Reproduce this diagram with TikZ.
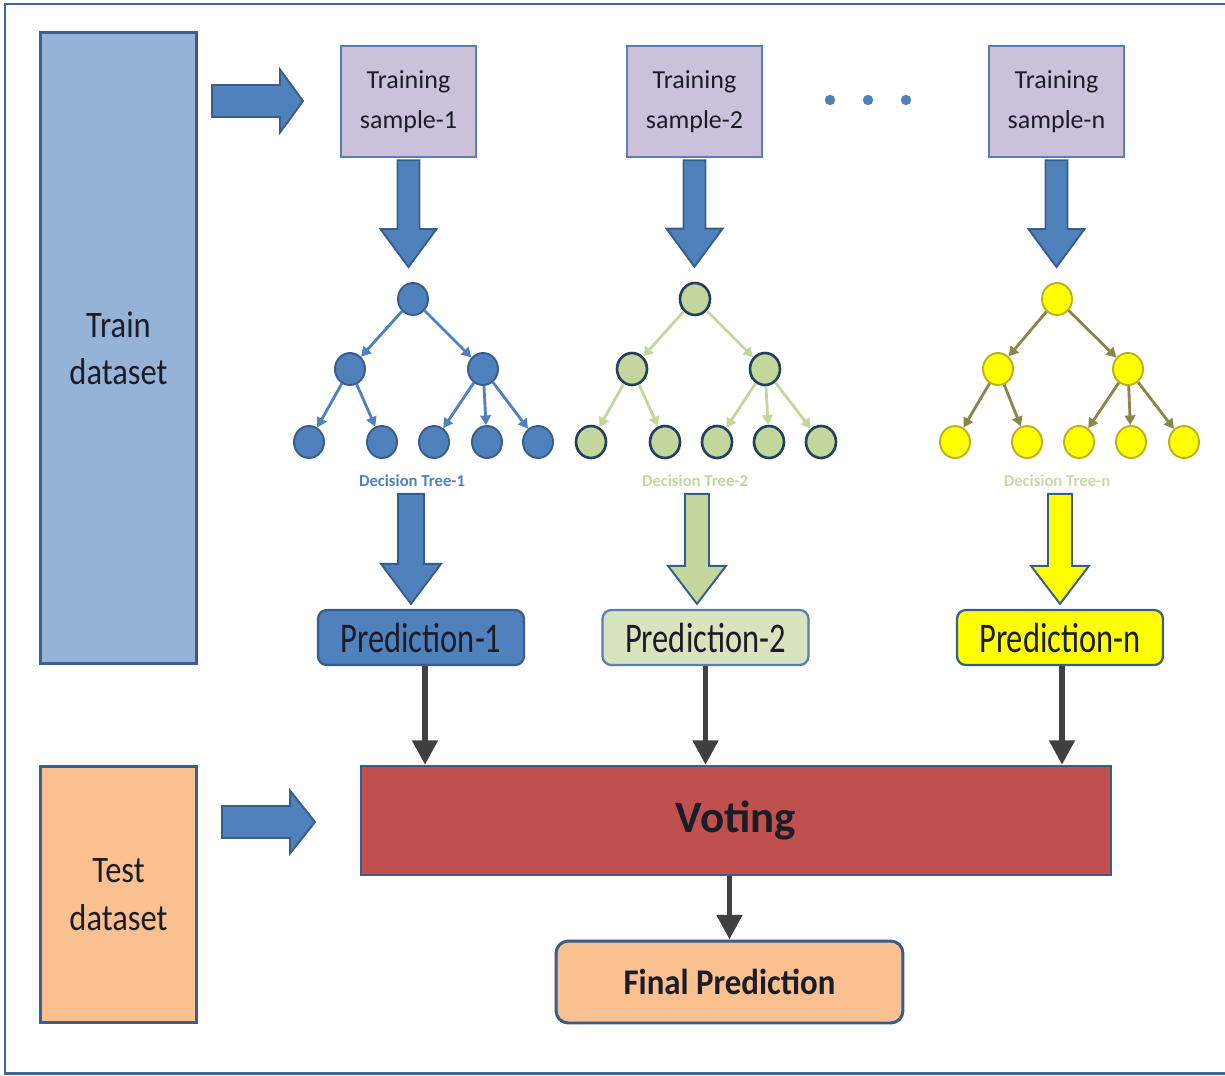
\documentclass[tikz,border=0pt]{standalone}
\usepackage{fontspec}
\setmainfont{Carlito}
\usetikzlibrary{arrows.meta,calc,shapes.geometric}

\definecolor{frameblue}{HTML}{3F64A0}
\definecolor{trainfill}{HTML}{95B3D7}
\definecolor{boxedge}{HTML}{3A5F8F}
\definecolor{samplefill}{HTML}{CCC1DA}
\definecolor{sampleedge}{HTML}{5A7DB5}
\definecolor{treeblue}{HTML}{4F81BD}
\definecolor{treeblueedge}{HTML}{385D8A}
\definecolor{treegreen}{HTML}{C3D69B}
\definecolor{treegreenedge}{HTML}{233F5E}
\definecolor{predgreen}{HTML}{D7E4BD}
\definecolor{treeyellow}{HTML}{FFFF00}
\definecolor{yellowedge}{HTML}{BDB01E}
\definecolor{olive}{HTML}{8B8648}
\definecolor{labelpale}{HTML}{CAD9A8}
\definecolor{votered}{HTML}{C0504D}
\definecolor{peach}{HTML}{FAC090}
\definecolor{darkarrow}{HTML}{404040}
\definecolor{textdark}{HTML}{1C1C28}

% vertically stretched text
\newcommand{\tallt}[2]{\scalebox{1}[#1]{#2}}
% vertical block arrow: style, start, tip, half shaft, half head, head length
\newcommand{\vblock}[6]{%
  \draw[#1] ($(#2)+(-#4,0)$) -- ($(#2)+(#4,0)$) -- ($(#3)+(#4,-#6)$)
    -- ($(#3)+(#5,-#6)$) -- (#3) -- ($(#3)+(-#5,-#6)$)
    -- ($(#3)+(-#4,-#6)$) -- cycle;}
% horizontal block arrow: style, start, tip, half shaft, half head, head length
\newcommand{\hblock}[6]{%
  \draw[#1] ($(#2)+(0,-#4)$) -- ($(#3)+(-#6,-#4)$) -- ($(#3)+(-#6,-#5)$)
    -- (#3) -- ($(#3)+(-#6,#5)$) -- ($(#3)+(-#6,#4)$)
    -- ($(#2)+(0,#4)$) -- cycle;}
% decision tree: prefix, node style, edge style, root x, left x, right x, leaf xs
\newcommand{\dtree}[7]{%
  \node[#2] (#1r) at (#4,299) {};
  \node[#2] (#1L) at (#5,369) {};
  \node[#2] (#1R) at (#6,369) {};
  \foreach \lx [count=\i] in {#7} {\node[#2] (#1\i) at (\lx,442) {};}
  \draw[#3] (#1r) -- (#1L);
  \draw[#3] (#1r) -- (#1R);
  \draw[#3] (#1L) -- (#11);
  \draw[#3] (#1L) -- (#12);
  \draw[#3] (#1R) -- (#13);
  \draw[#3] (#1R) -- (#14);
  \draw[#3] (#1R) -- (#15);}

\tikzset{
  x=0.02cm, y=-0.02cm,
  databox/.style={draw=boxedge, line width=1.7pt, minimum width=3.14cm,
    align=center, text=textdark, font=\fontsize{18.5}{27}\selectfont},
  samplebox/.style={draw=sampleedge, fill=samplefill, line width=1.4pt,
    minimum width=2.7cm, minimum height=2.22cm, align=center, text=textdark,
    font=\fontsize{14.8}{22.7}\selectfont},
  predbox/.style={draw=treeblueedge, line width=1.3pt, rounded corners=5pt,
    minimum width=4.12cm, minimum height=1.1cm, inner sep=0pt, text=textdark,
    font=\fontsize{18.5}{22}\selectfont},
  tnode/.style={ellipse, minimum width=0.6cm, minimum height=0.64cm,
    inner sep=0pt, line width=1.1pt},
  bluenode/.style={tnode, fill=treeblue, draw=treeblueedge},
  greennode/.style={tnode, fill=treegreen, draw=treegreenedge, line width=1.5pt},
  yellownode/.style={tnode, fill=treeyellow, draw=yellowedge},
  tedge/.style={line width=1.6pt, -{Triangle[length=5.5pt,width=6pt]}},
  treelabel/.style={font=\fontsize{9.5}{11}\selectfont\bfseries, inner sep=2pt},
  bigarrow/.style={fill=treeblue, draw=treeblueedge, line width=1.1pt, line join=miter},
  vote/.style={line width=3.4pt, draw=darkarrow,
    -{Triangle[length=14pt,width=14pt]}},
}

\begin{document}
\begin{tikzpicture}
\useasboundingbox (0,0) rectangle (1225,1076);
% outer frame, open on the right
\draw[frameblue, line width=1.7pt] (1226,4) -- (5,4) -- (5,1073) -- (1226,1073);

% datasets
\node[databox, fill=trainfill, minimum height=12.64cm] (train) at (118.5,348)
  {\tallt{1.15}{Train}\\\tallt{1.15}{dataset}};
\node[databox, fill=peach, minimum height=5.14cm] (test) at (118.5,894.5)
  {\tallt{1.15}{Test}\\\tallt{1.15}{dataset}};

% bootstrap samples
\node[samplebox] (s1) at (408.5,101.5) {Training\\sample-1};
\node[samplebox] (s2) at (694.5,101.5) {Training\\sample-2};
\node[samplebox] (sn) at (1056.5,101.5) {Training\\sample-n};
\foreach \dx in {830,868,906}
  \fill[treeblue] (\dx,100) circle (5.2);

% input arrows
\coordinate (ta0) at (212,101);
\coordinate (ta1) at (303,101);
\hblock{bigarrow}{ta0}{ta1}{16}{31.5}{23}
\coordinate (te0) at (222,822);
\coordinate (te1) at (315,822);
\hblock{bigarrow}{te0}{te1}{16}{31.5}{25}

% trees
\dtree{a}{bluenode}{tedge, draw=treeblue}{413}{350}{483}{309,382,434,487,538}
\dtree{b}{greennode}{tedge, draw=treegreen}{695}{632}{765}{591,665,717,769,821}
\dtree{c}{yellownode}{tedge, draw=olive}{1057}{998}{1128}{955,1027,1079,1131,1184}

\node[treelabel, text=treeblue] (l1) at (412,481) {Decision Tree-1};
\node[treelabel, text=treegreen] (l2) at (695,481) {Decision Tree-2};
\node[treelabel, text=labelpale] (l3) at (1057,481) {Decision Tree-n};

% samples feed trees
\coordinate (s1o) at ($(s1.south)+(0,2)$);
\coordinate (s2o) at ($(s2.south)+(0,2)$);
\coordinate (sno) at ($(sn.south)+(0,2)$);
\coordinate (a1t) at ($(s1o |- ar.north)+(0,-15)$);
\coordinate (a2t) at ($(s2o |- br.north)+(0,-15)$);
\coordinate (a3t) at ($(sno |- cr.north)+(0,-15)$);
\vblock{bigarrow}{s1o}{a1t}{11}{28}{38}
\vblock{bigarrow}{s2o}{a2t}{11}{28}{38}
\vblock{bigarrow}{sno}{a3t}{11}{28}{38}

% predictions
\node[predbox, fill=treeblue] (p1) at (421,637.5) {\tallt{1.3}{Prediction-1}};
\node[predbox, fill=predgreen, draw=sampleedge] (p2) at (705.5,637.5)
  {\tallt{1.3}{Prediction-2}};
\node[predbox, fill=treeyellow] (pn) at (1060,637.5) {\tallt{1.3}{Prediction-n}};

\coordinate (d1s) at ($(l1.south)+(-1,3)$);
\coordinate (d2s) at ($(l2.south)+(2,3)$);
\coordinate (d3s) at ($(l3.south)+(3,3)$);
\coordinate (d1e) at ($(d1s |- p1.north)+(0,-5)$);
\coordinate (d2e) at ($(d2s |- p2.north)+(0,-5)$);
\coordinate (d3e) at ($(d3s |- pn.north)+(0,-5)$);
\vblock{bigarrow}{d1s}{d1e}{13}{30}{40}
\vblock{bigarrow, fill=treegreen}{d2s}{d2e}{12}{29}{38}
\vblock{bigarrow, fill=treeyellow}{d3s}{d3e}{12}{29}{38}

% voting
\node[draw=treeblueedge, fill=votered, line width=1.3pt, minimum width=15cm,
  minimum height=2.18cm, text=textdark,
  font=\fontsize{25.6}{30}\selectfont\bfseries] (vote) at (736,820.5) {Voting};
\node[draw=treeblueedge, fill=peach, line width=1.7pt, rounded corners=7pt,
  minimum width=6.94cm, minimum height=1.64cm, text=textdark,
  font=\fontsize{18.7}{22}\selectfont\bfseries] (final) at (729.5,982)
  {\tallt{1.1}{Final Prediction}};

\coordinate (v1) at ($(p1.south)+(4,0)$);
\coordinate (v3) at ($(pn.south)+(2,0)$);
\draw[vote] (v1) -- (v1 |- vote.north);
\draw[vote] (p2.south) -- (p2.south |- vote.north);
\draw[vote] (v3) -- (v3 |- vote.north);
\draw[vote] (vote.south -| final.north) -- (final.north);
\end{tikzpicture}
\end{document}
